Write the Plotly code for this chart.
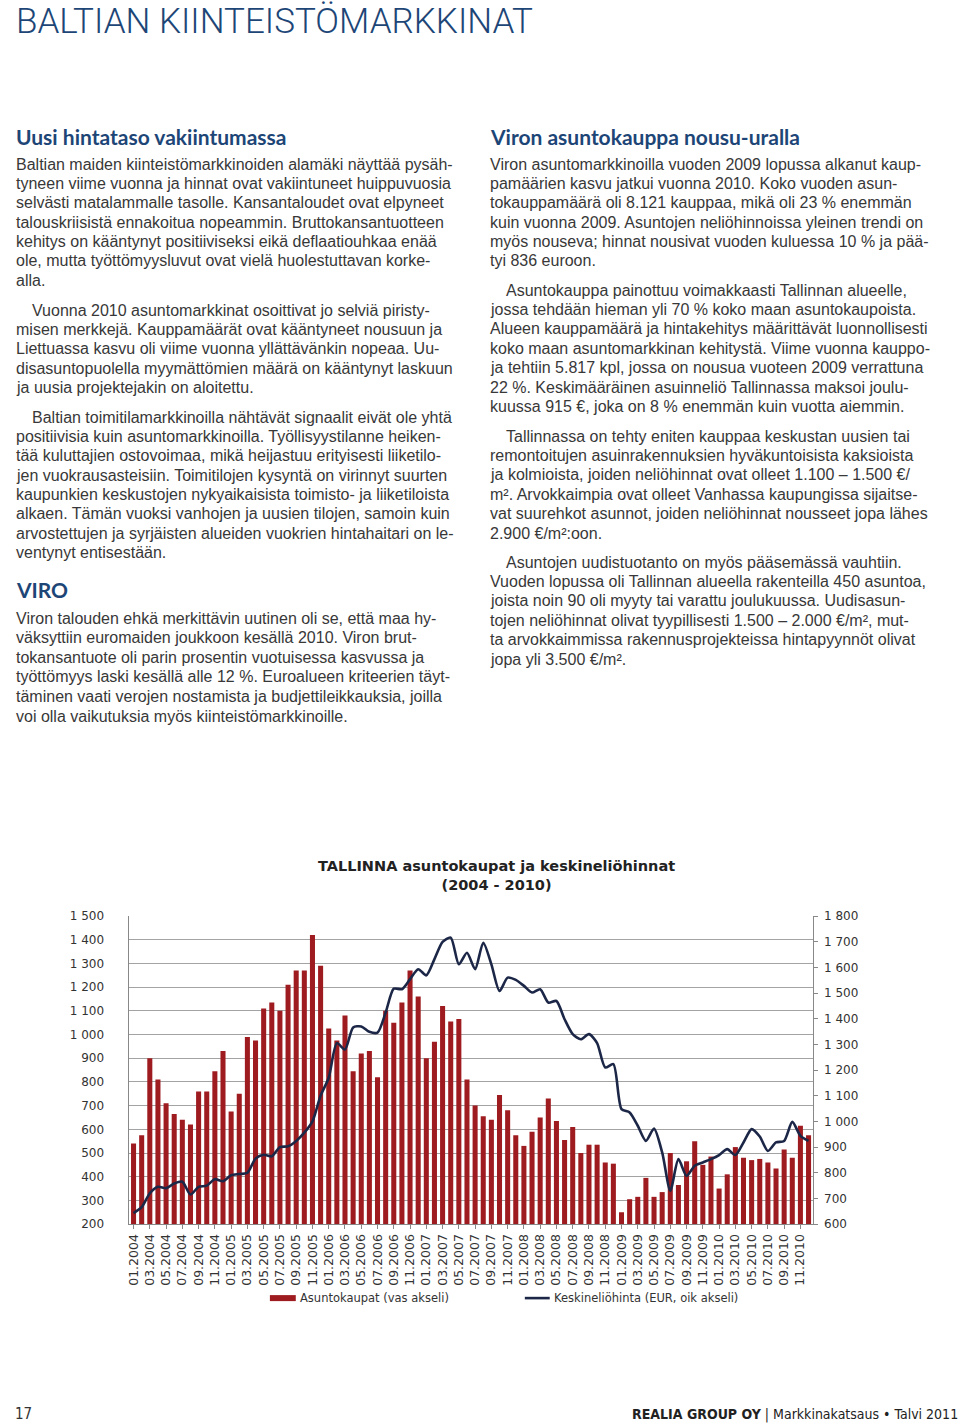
import plotly.graph_objects as go

# ---------------- data ----------------
years = [2004, 2005, 2006, 2007, 2008, 2009, 2010]
months = [f"{m:02d}.{y}" for y in years for m in range(1, 13)]
tick_labels = months[::2]

# Asuntokaupat (vas akseli) - monthly transactions
sales = [
    540, 575, 900, 810, 710, 665, 640, 620, 760, 760, 845, 930,
    675, 750, 990, 975, 1110, 1135, 1100, 1210, 1270, 1270, 1420, 1290,
    1025, 975, 1080, 845, 920, 930, 820, 1100, 1050, 1135, 1270, 1160,
    900, 970, 1120, 1055, 1065, 810, 700, 655, 640, 745, 680, 575,
    530, 590, 650, 730, 635, 555, 610, 500, 535, 535, 460, 455,
    250, 305, 315, 395, 315, 335, 500, 365, 465, 550, 450, 485,
    350, 410, 525, 480, 470, 475, 460, 435, 515, 480, 615, 575,
]
# Keskineliöhinta (EUR, oik akseli)
price = [
    643, 666, 720, 745, 740, 758, 765, 715, 745, 750, 775, 767,
    790, 795, 800, 855, 870, 864, 900, 903, 924, 956, 1000, 1100,
    1170, 1305, 1280, 1366, 1370, 1349, 1346, 1424, 1517, 1515, 1554, 1593,
    1569, 1632, 1699, 1716, 1612, 1657, 1593, 1696, 1612, 1508, 1560, 1551,
    1528, 1502, 1515, 1463, 1469, 1398, 1340, 1320, 1340, 1305, 1210, 1223,
    1048, 1035, 983, 924, 972, 879, 730, 853, 788, 827, 840, 853,
    869, 892, 869, 918, 970, 941, 885, 918, 924, 998, 944, 924,
]

left_range = [200, 1500]
right_range = [600, 1800]

# ---------------- page text ----------------
page_title = "BALTIAN KIINTEISTÖMARKKINAT"

left_col = [
    ("h", 137, "Uusi hintataso vakiintumassa"),
    ("p", 165, "Baltian maiden kiinteistömarkkinoiden alamäki näyttää pysäh-"),
    ("p", 184, "tyneen viime vuonna ja hinnat ovat vakiintuneet huippuvuosia"),
    ("p", 203, "selvästi matalammalle tasolle. Kansantaloudet ovat elpyneet"),
    ("p", 223, "talouskriisistä ennakoitua nopeammin. Bruttokansantuotteen"),
    ("p", 242, "kehitys on kääntynyt positiiviseksi eikä deflaatiouhkaa enää"),
    ("p", 261, "ole, mutta työttömyysluvut ovat vielä huolestuttavan korke-"),
    ("p", 281, "alla."),
    ("i", 311, "Vuonna 2010 asuntomarkkinat osoittivat jo selviä piristy-"),
    ("p", 330, "misen merkkejä. Kauppamäärät ovat kääntyneet nousuun ja"),
    ("p", 349, "Liettuassa kasvu oli viime vuonna yllättävänkin nopeaa. Uu-"),
    ("p", 369, "disasuntopuolella myymättömien määrä on kääntynyt laskuun"),
    ("p", 388, "ja uusia projektejakin on aloitettu."),
    ("i", 418, "Baltian toimitilamarkkinoilla nähtävät signaalit eivät ole yhtä"),
    ("p", 437, "positiivisia kuin asuntomarkkinoilla. Työllisyystilanne heiken-"),
    ("p", 456, "tää kuluttajien ostovoimaa, mikä heijastuu erityisesti liiketilo-"),
    ("p", 476, "jen vuokrausasteisiin. Toimitilojen kysyntä on virinnyt suurten"),
    ("p", 495, "kaupunkien keskustojen nykyaikaisista toimisto- ja liiketiloista"),
    ("p", 514, "alkaen. Tämän vuoksi vanhojen ja uusien tilojen, samoin kuin"),
    ("p", 534, "arvostettujen ja syrjäisten alueiden vuokrien hintahaitari on le-"),
    ("p", 553, "ventynyt entisestään."),
    ("h", 590, "VIRO"),
    ("p", 619, "Viron talouden ehkä merkittävin uutinen oli se, että maa hy-"),
    ("p", 638, "väksyttiin euromaiden joukkoon kesällä 2010. Viron brut-"),
    ("p", 658, "tokansantuote oli parin prosentin vuotuisessa kasvussa ja"),
    ("p", 677, "työttömyys laski kesällä alle 12 %. Euroalueen kriteerien täyt-"),
    ("p", 697, "täminen vaati verojen nostamista ja budjettileikkauksia, joilla"),
    ("p", 716, "voi olla vaikutuksia myös kiinteistömarkkinoille."),
]

right_col = [
    ("h", 137, "Viron asuntokauppa nousu-uralla"),
    ("p", 165, "Viron asuntomarkkinoilla vuoden 2009 lopussa alkanut kaup-"),
    ("p", 184, "pamäärien kasvu jatkui vuonna 2010. Koko vuoden asun-"),
    ("p", 203, "tokauppamäärä oli 8.121 kauppaa, mikä oli 23 % enemmän"),
    ("p", 223, "kuin vuonna 2009. Asuntojen neliöhinnoissa yleinen trendi on"),
    ("p", 242, "myös nouseva; hinnat nousivat vuoden kuluessa 10 % ja pää-"),
    ("p", 261, "tyi 836 euroon."),
    ("i", 291, "Asuntokauppa painottuu voimakkaasti Tallinnan alueelle,"),
    ("p", 310, "jossa tehdään hieman yli 70 % koko maan asuntokaupoista."),
    ("p", 329, "Alueen kauppamäärä ja hintakehitys määrittävät luonnollisesti"),
    ("p", 349, "koko maan asuntomarkkinan kehitystä. Viime vuonna kauppo-"),
    ("p", 368, "ja tehtiin 5.817 kpl, jossa on nousua vuoteen 2009 verrattuna"),
    ("p", 388, "22 %. Keskimääräinen asuinneliö Tallinnassa maksoi joulu-"),
    ("p", 407, "kuussa 915 €, joka on 8 % enemmän kuin vuotta aiemmin."),
    ("i", 437, "Tallinnassa on tehty eniten kauppaa keskustan uusien tai"),
    ("p", 456, "remontoitujen asuinrakennuksien hyväkuntoisista kaksioista"),
    ("p", 475, "ja kolmioista, joiden neliöhinnat ovat olleet 1.100 – 1.500 €/"),
    ("p", 495, "m². Arvokkaimpia ovat olleet Vanhassa kaupungissa sijaitse-"),
    ("p", 514, "vat suurehkot asunnot, joiden neliöhinnat nousseet jopa lähes"),
    ("p", 534, "2.900 €/m²:oon."),
    ("i", 563, "Asuntojen uudistuotanto on myös pääsemässä vauhtiin."),
    ("p", 582, "Vuoden lopussa oli Tallinnan alueella rakenteilla 450 asuntoa,"),
    ("p", 601, "joista noin 90 oli myyty tai varattu joulukuussa. Uudisasun-"),
    ("p", 621, "tojen neliöhinnat olivat tyypillisesti 1.500 – 2.000 €/m², mut-"),
    ("p", 640, "ta arvokkaimmissa rakennusprojekteissa hintapyynnöt olivat"),
    ("p", 660, "jopa yli 3.500 €/m²."),
]

W, H = 960, 1425
SY, CY = 0.99, 712.5


def px(x):
    return x / W


def py(y):
    ya = CY + (y - CY) / SY
    return 1 - ya / H


BLUE = "#1d4677"
TEXT = "#383838"
BODY_FONT = "Liberation Sans"
HEAD_FONT = "Lato"

fig = go.Figure()

fig.add_trace(go.Bar(
    x=months, y=sales, name="Asuntokaupat (vas akseli)",
    marker=dict(color="#9e1b20", line=dict(width=0)),
    yaxis="y", showlegend=False,
))
fig.add_trace(go.Scatter(
    x=months, y=price, name="Keskineliöhinta (EUR, oik akseli)",
    mode="lines", line=dict(color="#1c2748", width=2.6, shape="spline", smoothing=0.7),
    yaxis="y2", showlegend=False,
))

annotations = []

annotations.append(dict(
    x=px(10), y=py(22), xref="paper", yref="paper", xanchor="left", yanchor="middle",
    text=page_title, showarrow=False,
    font=dict(family="Roboto", size=35, color=BLUE, weight=300),
))


def add_col(col, x0):
    for kind, y, txt in col:
        if kind == "h":
            annotations.append(dict(
                x=px(x0 - 3), y=py(y), xref="paper", yref="paper", xanchor="left",
                yanchor="middle", text=f"<b>{txt}</b>", showarrow=False,
                font=dict(family=HEAD_FONT, size=21, color=BLUE),
            ))
        else:
            xx = x0 + (16 if kind == "i" else 0)
            annotations.append(dict(
                x=px(xx - 3), y=py(y), xref="paper", yref="paper", xanchor="left",
                yanchor="middle", text=txt, showarrow=False,
                font=dict(family=BODY_FONT, size=16, color=TEXT),
            ))


add_col(left_col, 13)
add_col(right_col, 489)

# chart title
annotations.append(dict(
    x=px(495), y=py(875), xref="paper", yref="paper", xanchor="center", yanchor="middle",
    text="<b>TALLINNA asuntokaupat ja keskineliöhinnat<br>(2004 - 2010)</b>", showarrow=False,
    font=dict(family="DejaVu Sans", size=14.5, color="#222222"),
))

# legend (manual)
annotations.append(dict(
    x=px(295), y=py(1298), xref="paper", yref="paper", xanchor="left", yanchor="middle",
    text="Asuntokaupat (vas akseli)", showarrow=False,
    font=dict(family="DejaVu Sans", size=11.5, color="#333333"),
))
annotations.append(dict(
    x=px(550), y=py(1298), xref="paper", yref="paper", xanchor="left", yanchor="middle",
    text="Keskineliöhinta (EUR, oik akseli)", showarrow=False,
    font=dict(family="DejaVu Sans", size=11.5, color="#333333"),
))

# footer
annotations.append(dict(
    x=px(9), y=py(1414), xref="paper", yref="paper", xanchor="left", yanchor="middle",
    text="17", showarrow=False,
    font=dict(family="DejaVu Sans Condensed, DejaVu Sans", size=15, color="#333333"),
))
annotations.append(dict(
    x=px(960), y=py(1414), xref="paper", yref="paper", xanchor="right", yanchor="middle",
    text="<b>REALIA GROUP OY</b> | Markkinakatsaus • Talvi 2011", showarrow=False,
    font=dict(family="DejaVu Sans Condensed, DejaVu Sans", size=14, color="#222222"),
))

shapes = [
    dict(type="rect", xref="paper", yref="paper",
         x0=px(267), x1=px(293), y0=py(1301), y1=py(1295),
         fillcolor="#9e1b20", line=dict(width=0)),
    dict(type="line", xref="paper", yref="paper",
         x0=px(523), x1=px(548), y0=py(1298), y1=py(1298),
         line=dict(color="#1c2748", width=2.6)),
]

fig.update_layout(
    width=W, height=H,
    margin=dict(l=0, r=0, t=0, b=0),
    paper_bgcolor="white", plot_bgcolor="white",
    separators=", ",
    bargap=0.38,
    annotations=annotations,
    shapes=shapes,
    xaxis=dict(
        domain=[px(126), px(812)],
        type="category",
        tickmode="array", tickvals=tick_labels, ticktext=tick_labels,
        tickangle=-90,
        tickfont=dict(family="DejaVu Sans", size=12.5, color="#333333"),
        showline=True, linecolor="#888888", linewidth=1,
        ticks="outside", ticklen=4, tickcolor="#888888",
        showgrid=False,
    ),
    yaxis=dict(
        domain=[py(1224), py(916)],
        range=left_range, dtick=100, tickformat=",d",
        tickfont=dict(family="DejaVu Sans", size=12, color="#333333"),
        showgrid=True, gridcolor="#a3a3a3", gridwidth=1,
        showline=True, linecolor="#888888", linewidth=1,
        ticks="", ticklabelstandoff=22,
        zeroline=False,
    ),
    yaxis2=dict(
        overlaying="y", side="right",
        range=right_range, dtick=100, tickformat=",d",
        tickfont=dict(family="DejaVu Sans", size=12, color="#333333"),
        showgrid=False,
        showline=True, linecolor="#888888", linewidth=1,
        ticks="outside", ticklen=4, tickcolor="#888888",
        ticklabelstandoff=4,
        zeroline=False,
    ),
)

fig.write_html(
    "out.html",
    config={"displayModeBar": False, "responsive": False},
    post_script=(
        "document.body.style.margin='0';document.body.style.padding='0';"
        "document.body.style.overflow='hidden';"
    ),
)
